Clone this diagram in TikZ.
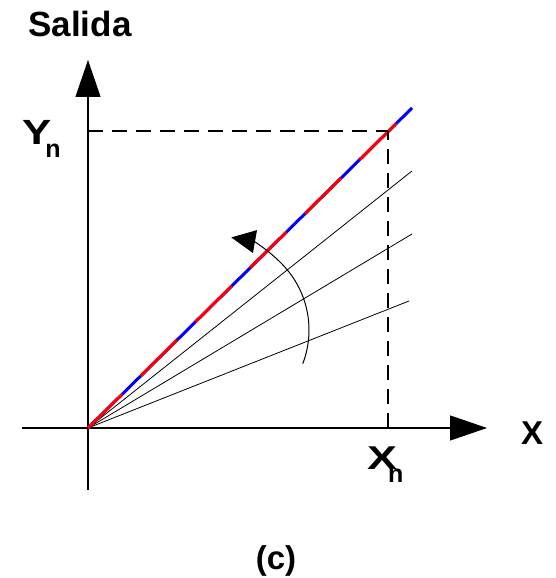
\documentclass[tikz,border=0pt]{standalone}
\usepackage{fontspec}
\setmainfont{Liberation Sans}
\usepackage{graphicx}
\usetikzlibrary{arrows.meta,positioning}
\newcommand{\bigfont}{\fontsize{33}{33}\selectfont\bfseries}
\newcommand{\subn}[3]{\scalebox{#2}[1]{#1}\kern#3\raisebox{-13pt}{\fontsize{25}{25}\selectfont\bfseries n}}

\begin{document}
\begin{tikzpicture}[
  x=1pt, y=1pt,
  axis/.style={line width=1.1pt, -{Triangle[length=37pt,width=25pt]}},
  ray/.style={line width=0.8pt},
  guide/.style={line width=1.1pt, dash pattern=on 15pt off 9pt},
  turn/.style={line width=1pt, -{Triangle[length=24pt,width=23pt]}},
  lbl/.style={inner sep=0pt, font=\bigfont}
]
\useasboundingbox (0,0) rectangle (556,578);
% points of the plot
\coordinate (O) at (88,150);
\coordinate (ybot) at (88,88);
\coordinate (ytop) at (88,518);
\coordinate (xleft) at (22,150);
\coordinate (xright) at (487,150);
\coordinate (r0) at (412,470);
\coordinate (r1) at (412,407);
\coordinate (r2) at (412,344);
\coordinate (r3) at (409,277);
\coordinate (P) at (388,447);
\coordinate (Py) at (88,447);
\coordinate (Px) at (388,150);
\coordinate (C) at (215,248);
% axes
\draw[axis] (ybot) -- (ytop);
\draw[axis] (xleft) -- (xright);
% fan of lines
\draw[ray] (O) -- (r1);
\draw[ray] (O) -- (r2);
\draw[ray] (O) -- (r3);
\draw[blue, line width=3pt] (O) -- (r0);
\draw[red, line width=3pt, dash pattern=on 51pt off 26pt, dash phase=3pt] (O) -- (r0);
% projections
\draw[guide] (Py) -- (P);
\draw[guide] (Px) -- (P);
% rotation
\draw[turn] ([shift={(-21:94)}]C) arc[start angle=-21, end angle=80, radius=94];
% labels
\node[lbl, anchor=base, font=\fontsize{35}{35}\selectfont\bfseries] (salida) at (80,541) {Salida};
\node[lbl, anchor=base west, font=\fontsize{35}{35}\selectfont\bfseries] (yn) at (22,433) {\subn{Y}{1.25}{-6pt}};
\node[lbl, anchor=base west] (xn) at (367,108) {\subn{X}{1.36}{-9pt}};
\node[lbl, anchor=base west] (xlab) at (521,133) {X};
\node[lbl, anchor=base, font=\fontsize{33}{33}\selectfont\bfseries] (cap) at (276,9) {(c)};
\end{tikzpicture}
\end{document}
